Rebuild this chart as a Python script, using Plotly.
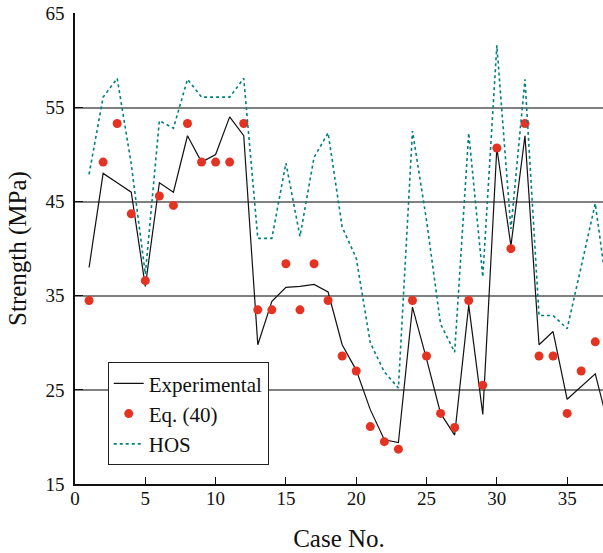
import plotly.graph_objects as go

cases = list(range(1, 39))
experimental = [38.0, 48.0, 47.0, 46.0, 36.0, 47.0, 46.0, 52.0, 49.2, 50.0,
                54.0, 52.0, 29.8, 34.4, 35.9, 36.0, 36.2, 35.4, 29.8, 27.1,
                22.9, 19.7, 19.4, 33.8, 28.3, 22.5, 20.2, 34.0, 22.4, 50.7,
                40.3, 52.0, 29.8, 31.2, 24.0, 25.3, 26.7, 20.8]
eq_cases = list(range(1, 38))
eq40 = [34.5, 49.2, 53.3, 43.7, 36.6, 45.6, 44.6, 53.3, 49.2, 49.2,
        49.2, 53.3, 33.5, 33.5, 38.4, 33.5, 38.4, 34.5, 28.6, 27.0,
        21.1, 19.5, 18.7, 34.5, 28.6, 22.5, 21.0, 34.5, 25.5, 50.7,
        40.0, 53.3, 28.6, 28.6, 22.5, 27.0, 30.1]
hos = [47.9, 56.1, 58.1, 49.0, 37.3, 53.6, 52.8, 58.0, 56.1, 56.1,
       56.1, 58.1, 41.1, 41.1, 49.1, 41.3, 49.7, 52.3, 42.3, 39.0,
       30.0, 26.9, 25.2, 52.5, 43.0, 32.0, 29.0, 52.3, 37.0, 61.6,
       42.1, 58.0, 32.9, 32.9, 31.5, 38.1, 44.8, 33.8]
x_ticks = [0, 5, 10, 15, 20, 25, 30, 35]
y_ticks = [15, 25, 35, 45, 55, 65]

FONT = "Liberation Serif"

fig = go.Figure()
fig.add_trace(go.Scatter(x=cases, y=experimental, mode="lines", name="Experimental",
                         line=dict(color="#111111", width=1.2)))
fig.add_trace(go.Scatter(x=eq_cases, y=eq40, mode="markers", name="Eq. (40)",
                         marker=dict(color="#e53323", size=9)))
fig.add_trace(go.Scatter(x=cases, y=hos, mode="lines", name="HOS",
                         line=dict(color="#00807f", width=1.6, dash="dot")))

fig.update_layout(
    width=603, height=553,
    margin=dict(l=75, r=0, t=13, b=69),
    plot_bgcolor="white", paper_bgcolor="white",
    font=dict(family=FONT, size=19, color="#111111"),
    showlegend=True,
    legend=dict(x=0.062, y=0.04, xanchor="left", yanchor="bottom",
                bordercolor="#222222", borderwidth=1, bgcolor="white",
                font=dict(family=FONT, size=21, color="#111111"),
                tracegroupgap=0, itemwidth=30),
    xaxis=dict(range=[0, 37.55], tickvals=x_ticks, ticks="inside", ticklen=7,
               tickcolor="#111111", showline=True, linecolor="#111111", linewidth=1.5,
               showgrid=False, zeroline=False, ticklabelstandoff=-4,
               title=dict(text="Case No.", font=dict(family=FONT, size=25), standoff=22),
               tickfont=dict(family=FONT, size=19)),
    yaxis=dict(range=[15, 65.04], tickvals=y_ticks, ticks="inside", ticklen=8,
               tickcolor="#111111", showline=True, linecolor="#111111", linewidth=1.5,
               showgrid=True, gridcolor="#808080", gridwidth=1.8, zeroline=False,
               ticklabelstandoff=5,
               title=dict(text="Strength (MPa)", font=dict(family=FONT, size=25), standoff=12),
               tickfont=dict(family=FONT, size=19)),
)

fig.write_html("out.html", config={"displayModeBar": False},
               post_script="document.body.style.margin='0';document.body.style.overflow='hidden';")
